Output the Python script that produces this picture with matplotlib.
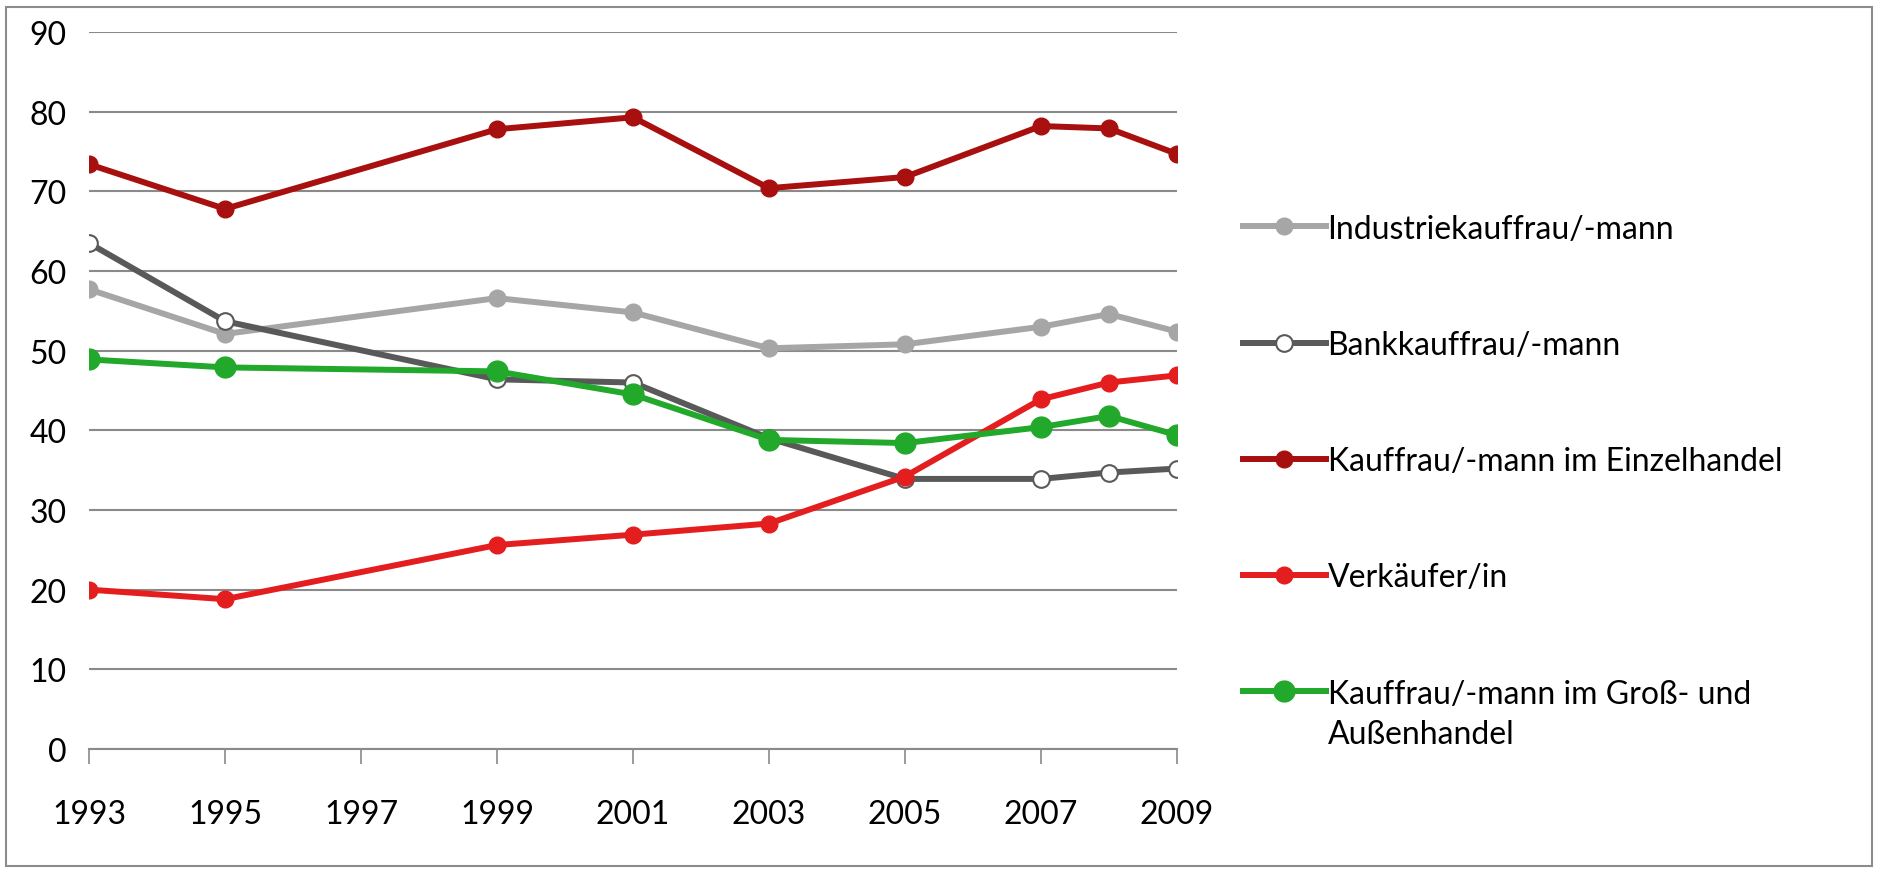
import matplotlib.pyplot as plt
from matplotlib.patches import Rectangle

plt.rcParams['font.family'] = ['Lato', 'DejaVu Sans']

# values
jahre = [1993, 1995, 1999, 2001, 2003, 2005, 2007, 2008, 2009]
industrie = [57.7, 52.1, 56.6, 54.8, 50.3, 50.8, 53.0, 54.6, 52.4]
bank = [63.5, 53.7, 46.4, 46.0, 39.0, 33.9, 33.9, 34.7, 35.2]
einzelhandel = [73.4, 67.8, 77.8, 79.3, 70.4, 71.8, 78.2, 77.9, 74.7]
verkaeufer = [20.0, 18.8, 25.6, 26.9, 28.3, 34.2, 43.9, 46.0, 46.9]
grosshandel = [48.9, 47.9, 47.4, 44.5, 38.8, 38.4, 40.4, 41.8, 39.4]

namen = ['Industriekauffrau/-mann', 'Bankkauffrau/-mann',
         'Kauffrau/-mann im Einzelhandel', 'Verkäufer/in',
         'Kauffrau/-mann im Groß- und']
zweite_zeile = 'Außenhandel'
x_ticks = [1993, 1995, 1997, 1999, 2001, 2003, 2005, 2007, 2009]
y_ticks = [0, 10, 20, 30, 40, 50, 60, 70, 80, 90]

fig = plt.figure(figsize=(18.78, 8.70), dpi=100)
fig.patches.append(Rectangle((0.003, 0.004), 0.994, 0.987, transform=fig.transFigure,
                             fill=False, edgecolor='#8c8c8c', linewidth=1.5))
ax = fig.add_axes([0.0474, 0.138, 0.5793, 0.824])

ax.plot(jahre, industrie, color='#a6a6a6', lw=4.3, marker='o', ms=12,
        label=namen[0])
ax.plot(jahre, bank, color='#595959', lw=4.3, marker='o', ms=12,
        mfc='white', mec='#595959', mew=1.5, label=namen[1])
ax.plot(jahre, einzelhandel, color='#a80f0f', lw=4.3, marker='o', ms=12,
        label=namen[2])
ax.plot(jahre, verkaeufer, color='#e41e1e', lw=4.3, marker='o', ms=12,
        label=namen[3])
ax.plot(jahre, grosshandel, color='#22a82a', lw=4.3, marker='o', ms=15,
        label=namen[4])

ax.set_xlim(1993, 2009)
ax.set_ylim(0, 90)
ax.set_xticks(x_ticks)
ax.set_yticks(y_ticks)
ax.grid(axis='y', color='#8a8a8a', lw=1.5)
ax.set_axisbelow(True)
for s in ['top', 'right', 'left']:
    ax.spines[s].set_visible(False)
ax.spines['bottom'].set_color('#8a8a8a')
ax.spines['bottom'].set_linewidth(1.5)
ax.tick_params(axis='y', length=0, pad=16, labelsize=23)
ax.tick_params(axis='x', length=11, width=1.2, color='#8a8a8a', pad=25, labelsize=23)

leg = ax.legend(loc='upper left', bbox_to_anchor=(0.655, 0.768),
                bbox_transform=fig.transFigure, frameon=False, fontsize=23,
                handlelength=2.6, handletextpad=0.05, labelspacing=2.7,
                borderaxespad=0)

# second line of the last legend entry, below its first line
fig.canvas.draw()
bb = leg.get_texts()[4].get_window_extent().transformed(fig.transFigure.inverted())
fig.text(bb.x0, bb.y0 - 0.012, zweite_zeile, fontsize=23, ha='left', va='top')

fig.savefig('out.png', dpi=100)
